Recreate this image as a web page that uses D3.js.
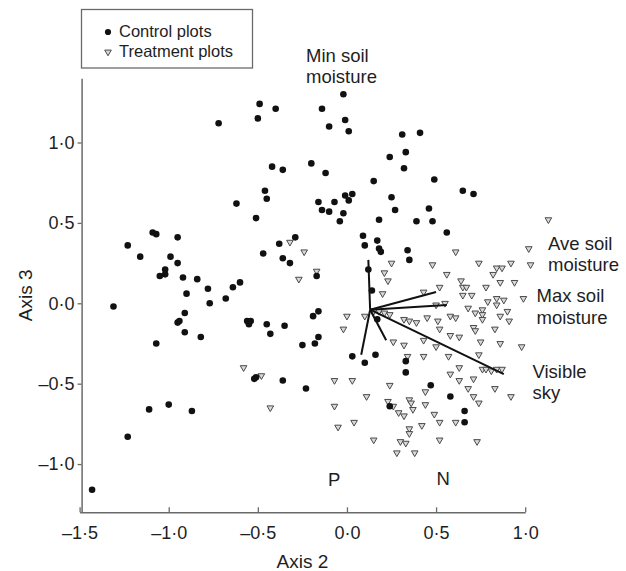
<!DOCTYPE html>
<html><head><meta charset="utf-8">
<script src="https://cdn.jsdelivr.net/npm/d3@7"></script>
<style>
body{margin:0;background:#fff;}
text{font-family:"Liberation Sans",Arial,Helvetica,sans-serif;fill:#1e1e1e;}
</style>
</head><body>
<svg id="chart" width="626" height="571"></svg>
<script>
// ---------------- data ----------------
const controlPlots = [
[-0.72,1.12],[-0.49,1.24],[-0.50,1.15],[-0.40,1.21],[-0.14,1.21],[-0.02,1.30],[-0.10,1.10],[-0.01,1.14],[0.01,1.07],
[-0.42,0.85],[-0.36,0.83],[-0.20,0.87],[-0.12,0.81],[0.15,0.76],[-0.46,0.70],[-0.45,0.65],[-0.62,0.62],[-0.51,0.53],
[-0.16,0.63],[-0.14,0.58],[-0.10,0.57],[-0.07,0.63],[-0.02,0.56],[-0.04,0.51],[-0.01,0.67],[0.03,0.68],[0.01,0.64],
[0.31,1.05],[0.41,1.06],[0.24,0.91],[0.33,0.94],[0.32,0.84],[0.49,0.77],[0.65,0.70],[0.71,0.68],[0.25,0.66],[0.27,0.58],
[0.46,0.59],[0.18,0.52],[0.39,0.51],[0.48,0.51],[0.56,0.44],[0.09,0.42],[0.10,0.36],[0.17,0.39],[0.18,0.34],[0.19,0.32],
[0.34,0.33],[0.35,0.27],[0.12,0.21],[0.14,0.08],[0.17,-0.10],
[-1.23,0.36],[-1.16,0.29],[-1.09,0.44],[-1.07,0.43],[-0.95,0.41],[-0.99,0.29],[-0.95,0.25],[-1.02,0.21],[-1.05,0.17],
[-1.02,0.18],[-0.92,0.16],[-0.84,0.15],[-0.90,0.06],[-0.78,0.09],[-0.68,0.03],[-0.64,0.10],[-0.60,0.13],
[-0.47,0.31],[-0.38,0.37],[-0.29,0.41],[-0.36,0.28],[-0.32,0.25],[-0.17,0.17],
[-1.31,-0.02],[-0.77,0.00],[-0.95,-0.12],[-0.94,-0.11],[-0.91,-0.06],[-0.91,-0.18],[-0.82,-0.21],[-1.07,-0.25],
[-0.56,-0.11],[-0.54,-0.11],[-0.55,-0.13],[-0.45,-0.13],[-0.43,-0.19],[-0.35,-0.14],
[-0.25,-0.26],[-0.19,-0.08],[-0.16,-0.05],[-0.18,-0.25],[-0.16,-0.21],
[-0.52,-0.47],[-0.51,-0.46],[-0.36,-0.48],[-0.23,-0.53],
[-1.11,-0.66],[-1.00,-0.63],[-0.87,-0.67],[-1.23,-0.83],[-1.43,-1.16],
[0.03,-0.33],[0.10,-0.37],[0.16,-0.32],[0.33,-0.36],[0.33,-0.43],[0.47,-0.51],[0.58,-0.58],[0.66,-0.67],[0.66,-0.74],[0.24,-0.64]
];

const treatmentPlots = [
[-0.32,0.38],[-0.24,0.32],[-0.27,0.15],[-0.17,0.20],[0.00,-0.08],[-0.02,-0.16],[0.10,-0.08],
[-0.58,-0.40],[-0.48,-0.45],[-0.43,-0.65],[-0.07,-0.48],[0.03,-0.48],[-0.07,-0.64],[0.04,-0.74],[-0.05,-0.77],
[0.15,-0.85],[0.11,-0.58],[0.24,-0.51],
[0.25,0.25],[0.21,0.19],[0.23,0.14],[0.20,0.06],[0.15,-0.05],[0.18,-0.05],[0.21,-0.06],[0.24,-0.07],
[0.61,0.32],[0.48,0.24],[0.56,0.18],[0.74,0.25],[0.84,0.22],[0.87,0.22],[0.92,0.25],[0.82,0.18],[0.86,0.13],[0.94,0.13],
[0.64,0.14],[0.65,0.10],[0.67,0.10],[0.78,0.10],[0.52,0.10],[0.43,0.07],[0.65,0.05],[0.70,0.05],[0.99,0.03],
[0.79,0.01],[0.84,0.03],[0.88,0.02],[0.84,-0.01],[0.90,-0.05],[0.50,-0.01],[0.55,0.00],
[0.68,-0.03],[0.72,-0.06],[0.76,-0.04],[0.76,-0.07],[0.76,-0.10],[0.71,-0.15],[0.86,-0.08],[0.91,-0.11],[0.83,-0.16],
[0.32,-0.10],[0.35,-0.11],[0.39,-0.12],[0.45,-0.09],[0.51,-0.11],[0.58,-0.08],[0.61,-0.09],
[0.52,-0.16],[0.58,-0.20],[0.63,-0.21],[0.72,-0.17],[0.75,-0.24],[0.86,-0.25],[0.98,-0.27],[0.43,-0.23],
[0.26,-0.24],[0.32,-0.26],[0.50,-0.27],[0.34,-0.33],[0.43,-0.33],[0.57,-0.33],[0.74,-0.32],
[0.63,-0.40],[0.76,-0.41],[0.78,-0.41],[0.81,-0.42],[0.84,-0.41],[0.87,-0.41],[0.58,-0.44],[0.63,-0.48],[0.71,-0.47],
[0.44,-0.55],[0.68,-0.53],[0.83,-0.53],[0.92,-0.58],[0.35,-0.60],[0.36,-0.62],[0.37,-0.66],[0.44,-0.63],[0.71,-0.58],[0.74,-0.62],
[0.23,-0.61],[0.26,-0.64],[0.29,-0.68],[0.32,-0.70],[0.49,-0.69],[0.61,-0.74],[0.52,-0.74],
[0.35,-0.78],[0.42,-0.76],[0.35,-0.81],[0.30,-0.86],[0.33,-0.87],[0.52,-0.85],[0.73,-0.86],[0.28,-0.93],[0.38,-0.93],
[1.13,0.52],[1.02,0.34],[1.03,0.24]
];

// biplot vectors: common origin and tips
const vectorOrigin = [0.13, -0.04];
const vectorTips = [
  [0.12, 0.27],   // Min soil moisture
  [0.50, 0.07],   // Ave soil moisture
  [0.56, -0.01],  // Max soil moisture
  [0.88, -0.44],  // Visible sky
  [0.22, -0.23],
  [0.08, -0.32]
];

const xTicks = [-1.5, -1.0, -0.5, 0.0, 0.5, 1.0];
const yTicks = [-1.0, -0.5, 0.0, 0.5, 1.0];
const legendLabels = ["Control plots", "Treatment plots"];

// ---------------- drawing ----------------
const svg = d3.select("#chart");
const x = d3.scaleLinear().domain([-1.5, 1.0]).range([79.6, 525.2]);
const y = d3.scaleLinear().domain([-1.3, 1.4]).range([512.3, 78.2]);
const axisColor = "#6a6a6a";
const fmt = v => d3.format(".1f")(v).replace(".", "\u00B7").replace("-", "\u2013").replace("\u2212", "\u2013");

// x axis
const gx = svg.append("g").attr("transform", "translate(0,512.3)")
  .call(d3.axisBottom(x).tickValues(xTicks).tickFormat(fmt).tickSizeInner(-5).tickSizeOuter(0).tickPadding(13.5));
gx.select(".domain").attr("stroke", axisColor).attr("stroke-width", 1.5);
gx.selectAll(".tick line").attr("stroke", axisColor).attr("stroke-width", 1.3);
gx.selectAll(".tick text").style("font-size", "18px").attr("fill", "#1e1e1e")
  .style("font-family", "'Liberation Sans',Arial,sans-serif");

// y axis
const gy = svg.append("g").attr("transform", "translate(81.6,0)")
  .call(d3.axisLeft(y).tickValues(yTicks).tickFormat(fmt).tickSizeInner(4).tickSizeOuter(0).tickPadding(3));
gy.select(".domain").attr("stroke", axisColor).attr("stroke-width", 1.5);
gy.selectAll(".tick line").attr("stroke", axisColor).attr("stroke-width", 1.3);
gy.selectAll(".tick text").style("font-size", "18px").attr("fill", "#1e1e1e")
  .style("font-family", "'Liberation Sans',Arial,sans-serif");

// axis titles
svg.append("text").attr("x", (x(-1.5) + x(1.0)) / 2).attr("y", 568).attr("text-anchor", "middle")
  .style("font-size", "19px").text("Axis 2");
svg.append("text").attr("transform", `translate(31.5,${(y(-1.3) + y(1.4)) / 2}) rotate(-90)`)
  .attr("text-anchor", "middle").style("font-size", "19px").text("Axis 3");

// triangle symbol (inverted)
const tri = d3.symbol().type(d3.symbolTriangle).size(19);

// treatment plots
svg.append("g").selectAll("path").data(treatmentPlots).join("path")
  .attr("d", tri)
  .attr("transform", d => `translate(${x(d[0])},${y(d[1])}) rotate(180)`)
  .attr("fill", "#d8d8d8").attr("stroke", "#4a4a4a").attr("stroke-width", 1);

// control plots
svg.append("g").selectAll("circle").data(controlPlots).join("circle")
  .attr("cx", d => x(d[0])).attr("cy", d => y(d[1])).attr("r", 3.3).attr("fill", "#111");

// vectors
svg.append("g").selectAll("line").data(vectorTips).join("line")
  .attr("x1", x(vectorOrigin[0])).attr("y1", y(vectorOrigin[1]))
  .attr("x2", d => x(d[0])).attr("y2", d => y(d[1]))
  .attr("stroke", "#111").attr("stroke-width", 2);

// vector labels
const ann = svg.append("g").style("font-size", "18.5px");
function lbl(tx, ty, lines, dy) {
  const t = ann.append("text").attr("x", tx).attr("y", ty);
  lines.forEach((s, i) => t.append("tspan").attr("x", tx).attr("y", ty + i * dy).text(s));
}
lbl(306, 62, ["Min soil", "moisture"], 21);
lbl(548, 250, ["Ave soil", "moisture"], 21);
lbl(536.5, 302, ["Max soil", "moisture"], 21.5);
lbl(532.5, 378, ["Visible", "sky"], 21);
ann.append("text").attr("x", 328).attr("y", 486).text("P");
ann.append("text").attr("x", 436.5).attr("y", 485).text("N");

// legend
const lg = svg.append("g");
lg.append("rect").attr("x", 81.5).attr("y", 9.5).attr("width", 171).attr("height", 58.5)
  .attr("fill", "#fff").attr("stroke", "#6a6a6a").attr("stroke-width", 1.3);
lg.append("circle").attr("cx", 108).attr("cy", 32).attr("r", 3.1).attr("fill", "#111");
lg.append("path").attr("d", tri).attr("transform", "translate(108,52) rotate(180)")
  .attr("fill", "#d8d8d8").attr("stroke", "#4a4a4a").attr("stroke-width", 1);
lg.selectAll("text.lg").data(legendLabels).join("text").attr("class", "lg")
  .attr("x", 119).attr("y", (d, i) => 37 + i * 19.5).style("font-size", "16.5px").text(d => d);
</script>
</body></html>
